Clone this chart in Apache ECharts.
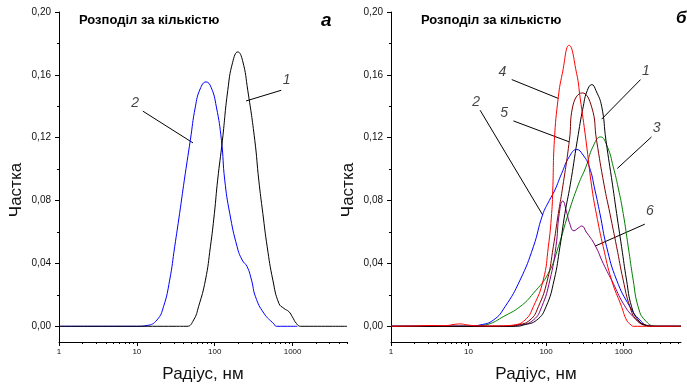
<!DOCTYPE html>
<html>
<head>
<meta charset="utf-8">
<script src="https://cdn.jsdelivr.net/npm/echarts@6/dist/echarts.min.js"></script>
<style>
  html, body { margin: 0; padding: 0; background: #fff; }
  #chart { width: 687px; height: 384px; }
</style>
</head>
<body>
<div id="chart"></div>
<script>
// ---- data: [радіус, нм ; частка] ----
// panel "а"
const curveA1 = [[1,0],[30,0],[44,0],[53.6,0.004],[62,0.0125],[76,0.0294],[88,0.0506],[99,0.0718],[109,0.093],[125.6,0.1184],[147,0.150],[170,0.168],[198,0.1746],[228,0.169],[266,0.150],[327,0.1184],[368,0.093],[415,0.0718],[472,0.0506],[558,0.0294],[667,0.0146],[773,0.0114],[897,0.0093],[991,0.0061],[1125,0.0017],[1268,0],[5000,0]];
const curveA2 = [[1,0],[10,0],[13.5,0.0005],[18.1,0.004],[22,0.0125],[26.4,0.0294],[30.6,0.0506],[35.4,0.0718],[40.7,0.093],[48.6,0.1184],[56.4,0.1396],[65,0.151],[77.4,0.1555],[90,0.152],[105,0.1396],[122,0.1184],[134.5,0.093],[156,0.0718],[194,0.0506],[225,0.0422],[261,0.0379],[297,0.0294],[334,0.0188],[428,0.0083],[575,0.0015],[620,0],[1150,0]];

// panel "б"
const curveB1 = [[1,0],[40,0],[51,0.0008],[76,0.004],[100,0.0125],[127,0.0294],[151,0.0506],[175,0.0718],[205,0.09],[253,0.1184],[302,0.14],[340,0.150],[390,0.1538],[440,0.150],[521,0.14],[592,0.1184],[720,0.09],[813,0.0718],[942,0.0506],[1092,0.0294],[1268,0.0125],[1540,0.004],[1977,0.0005],[2500,0],[5500,0]];
const curveB2 = [[1,0],[10,0],[14,0.0008],[21,0.004],[29.6,0.0125],[46.2,0.0294],[68.6,0.0506],[90,0.0708],[110,0.080],[130,0.0867],[159,0.0973],[200,0.108],[248,0.1125],[300,0.109],[361,0.1015],[427,0.0867],[495,0.0718],[604,0.0506],[813,0.0294],[1205,0.0125],[1622,0.004],[2200,0],[5500,0]];
const curveB3 = [[1,0],[10,0],[14,0.0005],[19,0.0017],[28,0.0061],[46.2,0.0125],[68.6,0.021],[107,0.0337],[144,0.0506],[194,0.0718],[260,0.09],[327,0.1015],[400,0.114],[505,0.1205],[620,0.114],[735,0.1015],[853,0.088],[988,0.0718],[1148,0.0506],[1330,0.0294],[1540,0.0125],[1880,0.004],[2656,0],[5500,0]];
const curveB4 = [[1,0],[2,0.0002],[3.5,0.0005],[5,0.0004],[6.5,0.0012],[7.8,0.0015],[9.5,0.0009],[13,0.0003],[20,0.0002],[30,0.0004],[37.9,0.0008],[53.6,0.004],[68.6,0.0125],[92,0.0294],[107,0.0506],[118,0.0718],[122,0.0867],[128,0.1184],[144,0.146],[162,0.1608],[198,0.1788],[248,0.1608],[274,0.146],[327,0.1184],[390,0.088],[460,0.068],[546,0.0506],[700,0.0294],[942,0.0125],[1092,0.004],[1250,0.0008],[1330,0],[5500,0]];
const curveB5 = [[1,0],[30,0],[41.9,0.0008],[62,0.004],[79.6,0.0125],[104,0.0294],[124,0.0506],[144,0.0718],[162,0.087],[200,0.1184],[220,0.1396],[293,0.1485],[387,0.1396],[448,0.1184],[560,0.09],[666,0.0718],[813,0.0506],[988,0.0294],[1205,0.0125],[1470,0.004],[1977,0.0005],[2500,0],[5500,0]];
const curveB6 = [[1,0],[30,0],[46,0.0008],[68.6,0.004],[88,0.0125],[112,0.0294],[134,0.0506],[148,0.0718],[164,0.0797],[186,0.0718],[200,0.066],[229,0.0608],[260,0.0625],[288,0.0638],[330,0.060],[427,0.0517],[546,0.040],[735,0.0273],[988,0.0146],[1330,0.0061],[1787,0.0015],[2656,0],[5500,0]];

// ticks
const xMajorTicks = [1, 10, 100, 1000];
const xMinorTicks = [2,3,4,5,6,7,8,9,20,30,40,50,60,70,80,90,200,300,400,500,600,700,800,900,2000,3000,4000,5000];
const yMajorTicks = [0, 0.04, 0.08, 0.12, 0.16, 0.20];
const yMinorTicks = [0.02, 0.06, 0.10, 0.14, 0.18];

// curve labels: [label, labelX, labelY, lineFromX, lineFromY, lineToX, lineToY]
const notesA = [
  ['1', 837, 0.1566, 715, 0.1502, 253, 0.1434],
  ['2', 9.5, 0.1418, 11.95, 0.1369, 52.6, 0.1167]
];
const notesB = [
  ['4', 27.4, 0.1619, 36.1, 0.157, 144, 0.145],
  ['5', 28.8, 0.1354, 37.9, 0.1307, 198, 0.1174],
  ['2', 12.5, 0.1428, 14.1, 0.1375, 90.5, 0.0708],
  ['1', 1936, 0.1625, 1656, 0.157, 521, 0.1318],
  ['3', 2660, 0.1263, 2290, 0.1205, 828, 0.1004],
  ['6', 2180, 0.0735, 1880, 0.065, 427, 0.051]
];

const FONT = 'Liberation Sans, Arial, sans-serif';
const chart = echarts.init(document.getElementById('chart'));

function xAxes(grid, max) {
  return [
    {
      type: 'log', logBase: 10, gridIndex: grid, min: 1, max: max, position: 'bottom',
      axisLine: { onZero: false, lineStyle: { color: '#000', width: 1 } },
      axisTick: { customValues: xMajorTicks, length: 4, lineStyle: { color: '#000' } },
      axisLabel: { customValues: xMajorTicks, fontSize: 8, color: '#111', fontFamily: FONT, margin: 6,
                   formatter: v => String(Math.round(v)) },
      splitLine: { show: false },
      name: 'Радіус, нм', nameLocation: 'middle', nameGap: 24,
      nameTextStyle: { fontSize: 17, color: '#111', fontFamily: FONT }
    },
    {
      type: 'log', logBase: 10, gridIndex: grid, min: 1, max: max, position: 'bottom',
      axisLine: { show: false, onZero: false },
      axisTick: { customValues: xMinorTicks, length: 2, lineStyle: { color: '#000' } },
      axisLabel: { show: false },
      splitLine: { show: false }
    }
  ];
}

function yAxes(grid) {
  return [
    {
      type: 'value', gridIndex: grid, min: -0.01, max: 0.2, position: 'left',
      axisLine: { show: true, onZero: false, lineStyle: { color: '#000', width: 1 } },
      axisTick: { show: true, customValues: yMajorTicks, length: 4, lineStyle: { color: '#000' } },
      axisLabel: { customValues: yMajorTicks, fontSize: 10, color: '#111', fontFamily: FONT, margin: 8,
                   formatter: v => v.toFixed(2).replace('.', ',') },
      splitLine: { show: false },
      name: 'Частка', nameLocation: 'middle', nameGap: 34, nameRotate: 90,
      nameTextStyle: { fontSize: 17, color: '#111', fontFamily: FONT, padding: [0, 26, 0, 0] }
    },
    {
      type: 'value', gridIndex: grid, min: -0.01, max: 0.2, position: 'left',
      axisLine: { show: false, onZero: false },
      axisTick: { show: true, customValues: yMinorTicks, length: 2, lineStyle: { color: '#000' } },
      axisLabel: { show: false },
      splitLine: { show: false }
    }
  ];
}

function curve(data, color, xi, yi) {
  return {
    type: 'line', data: data, xAxisIndex: xi, yAxisIndex: yi,
    showSymbol: false, smooth: 0.5, silent: true,
    lineStyle: { color: color, width: 1 }, z: 3
  };
}

function notes(list, xi, yi) {
  const out = [];
  list.forEach(n => {
    out.push({
      type: 'line', xAxisIndex: xi, yAxisIndex: yi, silent: true, showSymbol: false,
      data: [[n[3], n[4]], [n[5], n[6]]],
      lineStyle: { color: '#000', width: 1 }, z: 2
    });
  });
  out.push({
    type: 'scatter', xAxisIndex: xi, yAxisIndex: yi, silent: true, symbolSize: 0,
    data: list.map(n => [n[1], n[2], n[0]]),
    label: { show: true, position: 'inside', formatter: p => p.data[2],
             fontSize: 14, fontStyle: 'italic', color: '#111', fontFamily: FONT }
  });
  return out;
}

const titleStyle = { fill: '#000', font: 'bold 13px ' + FONT, verticalAlign: 'middle' };

chart.setOption({
  animation: false,
  backgroundColor: '#fff',
  grid: [
    { left: 59, top: 12, width: 288, height: 330, outerBoundsMode: 'none' },
    { left: 391, top: 12, width: 290, height: 330, outerBoundsMode: 'none' }
  ],
  xAxis: [].concat(xAxes(0, 5000), xAxes(1, 5500)),
  yAxis: [].concat(yAxes(0), yAxes(1)),
  graphic: [
    { type: 'text', left: 79, top: 14, style: Object.assign({ text: 'Розподіл за кількістю' }, titleStyle) },
    { type: 'text', left: 421, top: 14, style: Object.assign({ text: 'Розподіл за кількістю' }, titleStyle) },
    { type: 'text', left: 321, top: 11, style: { text: 'а', fill: '#000', font: 'italic bold 19px ' + FONT } },
    { type: 'text', left: 676, top: 10, style: { text: 'б', fill: '#000', font: 'italic bold 17px ' + FONT } }
  ],
  series: [].concat(
    notes(notesA, 0, 0),
    notes(notesB, 2, 2),
    [
      curve(curveA2, '#0000ff', 0, 0),
      curve(curveA1, '#000000', 0, 0),
      curve(curveB3, '#008000', 2, 2),
      curve(curveB2, '#0000ff', 2, 2),
      curve(curveB6, '#800080', 2, 2),
      curve(curveB5, '#800000', 2, 2),
      curve(curveB1, '#000000', 2, 2),
      curve(curveB4, '#ff0000', 2, 2)
    ]
  )
});
</script>
</body>
</html>
